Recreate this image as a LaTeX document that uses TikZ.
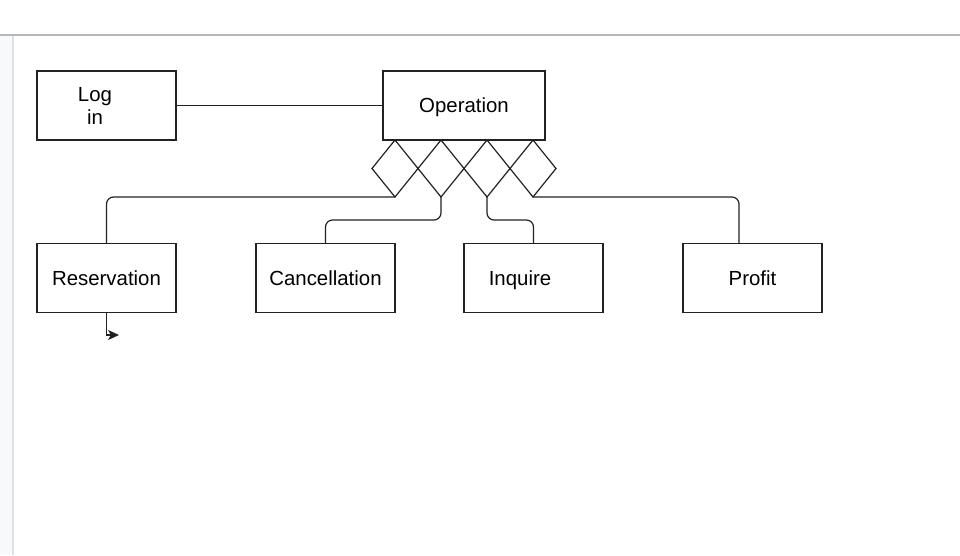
\documentclass[tikz,border=0pt]{standalone}
\usepackage{fontspec}
\setmainfont{Liberation Sans}
\usepackage{tikz}
\usetikzlibrary{positioning, shapes.geometric, arrows.meta}
\usetikzlibrary{backgrounds,calc}
\pgfdeclarelayer{background}
\pgfsetlayers{background,main}
\definecolor{edge}{HTML}{222222}
\definecolor{pane}{HTML}{F8F9FA}
\begin{document}
\begin{tikzpicture}[x=1pt,y=-1pt,
  box/.style={draw=edge,line width=1.2pt,minimum width=139pt,minimum height=69pt,inner sep=0pt,outer sep=0pt,font=\fontsize{20.4}{23}\selectfont,align=center},
  one/.style={text height=14.6pt,text depth=0pt},
  rel/.style={draw=edge,line width=1.2pt,diamond,minimum width=46pt,minimum height=57pt,inner sep=0pt,outer sep=0pt},
  link/.style={draw=edge,line width=1.2pt,rounded corners=7pt}]
\useasboundingbox (0,0) rectangle (960,555);
\node[box] (log) at (106.5,105.5) {Log\hspace*{23pt}\\in\hspace*{23pt}};
\node[box,one,minimum width=162pt] (op) at (464,105.5) {Operation};
\node[rel] (d1) at (395,168.5) {};
\node[rel] (d2) at (441,168.5) {};
\node[rel] (d3) at (487,168.5) {};
\node[rel] (d4) at (533,168.5) {};
\node[box,one] (res) at (106.5,278) {Reservation};
\node[box,one] (can) at (325.5,278) {Cancellation};
\node[box,one] (inq) at (533.5,278) {Inquire\hspace*{27pt}};
\node[box,one] (prf) at (752.5,278) {Profit};
\coordinate (resend) at (119,335);
\draw[link] (log.east) -- (op.west);
\draw[link] (d1.south) -| (res.north);
\draw[link] (d2.south) -- ++(0,23) -| (can.north);
\draw[link] (d3.south) -- ++(0,23) -| (inq.north);
\draw[link] (d4.south) -| ([xshift=-13.5pt]prf.north);
% \draw[link] (res.south) -- ++(0,22);
\draw[draw=edge,line width=1.2pt,-{Stealth[length=11pt,width=10pt,inset=3pt]}] (res.south) |- (resend);
  \begin{pgfonlayer}{background}
    \fill[white] (0,0) rectangle (960,555);
    \fill[pane] (0,35) rectangle (13,555);
    \draw[black!12,line width=1.5pt] (13,35) -- (13,555);
    \draw[black!28,line width=1.5pt] (0,35) -- (960,35);
  \end{pgfonlayer}
\end{tikzpicture}
\end{document}
